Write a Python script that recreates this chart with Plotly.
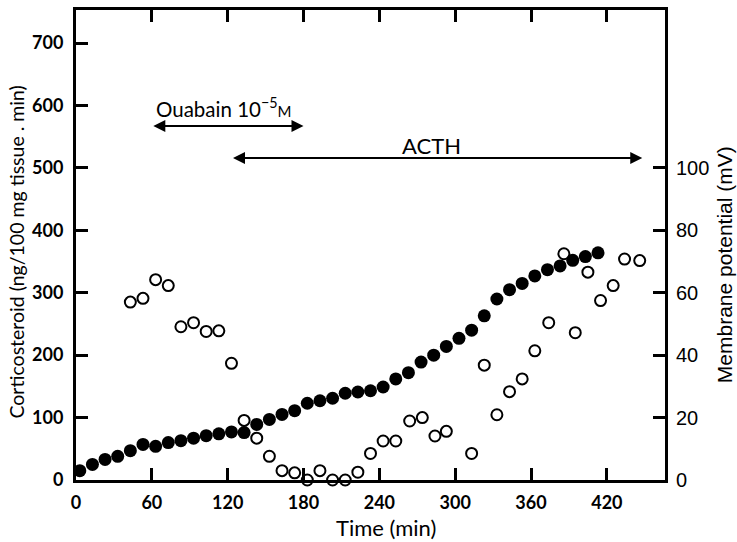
import plotly.graph_objects as go

# Cumulative corticosteroid output (filled circles, left axis)
cort_time = [3, 13, 23, 33, 43, 53, 63, 73, 83, 93, 103, 113, 123, 133, 143,
             153, 163, 173, 183, 193, 203, 213, 223, 233, 243, 253, 263, 273,
             283, 293, 303, 313, 323, 333, 343, 353, 363, 373, 383, 393, 403, 413]
cort_value = [15, 25, 33, 38, 47, 57, 54, 60, 63, 67, 71, 74, 77, 76, 89,
              97, 105, 111, 123, 127, 131, 139, 141, 143, 149, 162, 172, 189,
              200, 214, 227, 240, 263, 290, 305, 315, 327, 337, 343, 352, 358, 364]

# Membrane potential (open circles, right axis, mV)
mp_time = [43, 53, 63, 73, 83, 93, 103, 113, 123, 133, 143, 153, 163, 173, 183,
           193, 203, 213, 223, 233, 243, 253, 264, 274, 284, 293, 313, 323, 333,
           343, 353, 363, 374, 386, 395, 405, 415, 425, 434, 446]
mp_value = [57.0, 58.2, 64.2, 62.3, 49.1, 50.4, 47.6, 47.8, 37.4, 19.1, 13.4, 7.6,
            3.0, 2.3, 0.0, 3.0, 0.0, 0.0, 2.5, 8.5, 12.5, 12.5, 18.9, 20.0, 14.1,
            15.6, 8.5, 36.8, 20.9, 28.3, 32.4, 41.4, 50.4, 72.5, 47.2, 66.6, 57.5,
            62.3, 70.8, 70.3]

x_ticks = [0, 60, 120, 180, 240, 300, 360, 420]
left_ticks = [0, 100, 200, 300, 400, 500, 600, 700]
right_ticks = [0, 20, 40, 60, 80, 100]

X_MAX = 466
Y_MAX = 753
SCALE = 5  # ng units per mV between the two vertical axes

FONT = "Lato"
FONT_R = "Liberation Sans"
INK = "black"

fig = go.Figure()

fig.add_trace(go.Scatter(
    x=cort_time, y=cort_value, mode="markers", yaxis="y",
    marker=dict(symbol="circle", size=13, color=INK, line=dict(width=0)),
    showlegend=False, cliponaxis=False,
))

fig.add_trace(go.Scatter(
    x=mp_time, y=mp_value, mode="markers", yaxis="y2",
    marker=dict(symbol="circle-open", size=11, color=INK, line=dict(width=2, color=INK)),
    showlegend=False, cliponaxis=False,
))

axis_common = dict(
    showline=True, linecolor=INK, linewidth=3,
    ticks="inside", ticklen=12, tickwidth=3, tickcolor=INK,
    showgrid=False, zeroline=False,
)
bold_ticks = dict(family=FONT, size=18, color=INK, weight="bold")

fig.update_layout(
    width=737, height=542,
    margin=dict(l=76, r=72, t=7, b=62),
    paper_bgcolor="white", plot_bgcolor="white",
    font=dict(family=FONT, color=INK),
    xaxis=dict(range=[0, X_MAX], tickvals=x_ticks, mirror="ticks",
               tickfont=bold_ticks, ticklabelstandoff=4, **axis_common),
    yaxis=dict(range=[0, Y_MAX], tickvals=left_ticks,
               tickfont=bold_ticks, ticklabelstandoff=6, **axis_common),
    yaxis2=dict(range=[0, Y_MAX / SCALE], tickvals=right_ticks,
                overlaying="y", side="right",
                tickfont=dict(family=FONT_R, size=20, color=INK),
                ticklabelstandoff=4, **axis_common),
)

# Axis titles
titles = [
    dict(text="Time (min)", x=0.526, y=-0.1015, angle=0, family=FONT, size=22),
    dict(text="Corticosteroid (ng/100 mg tissue . min)", x=-0.1002, y=0.486, angle=-90,
         family=FONT, size=19.5),
    dict(text="Membrane potential (mV)", x=1.100, y=0.459, angle=-90,
         family=FONT_R, size=21),
]
for t in titles:
    fig.add_annotation(
        x=t["x"], y=t["y"], xref="paper", yref="paper", text=t["text"],
        textangle=t["angle"], showarrow=False, xanchor="center", yanchor="middle",
        font=dict(family=t["family"], size=t["size"], color=INK),
    )

# Treatment periods
periods = [
    dict(start=60, end=180, level=567,
         label="Ouabain 10<sup>−5</sup><span style='font-size:15px'>M</span>",
         label_x=117, label_y=597, size=20.5),
    dict(start=123, end=448, level=516, label="ACTH", label_x=281, label_y=536, size=22),
]
for p in periods:
    fig.add_annotation(
        x=p["end"], y=p["level"], ax=p["start"], ay=p["level"],
        xref="x", yref="y", axref="x", ayref="y",
        showarrow=True, arrowhead=2, startarrowhead=2, arrowside="end+start",
        arrowsize=1.2, startarrowsize=1.2, arrowwidth=2, arrowcolor=INK, text="",
    )
    fig.add_annotation(
        x=p["label_x"], y=p["label_y"], xref="x", yref="y",
        text=p["label"], showarrow=False,
        font=dict(family=FONT, size=p["size"], color=INK),
    )

fig.write_html("out.html")
